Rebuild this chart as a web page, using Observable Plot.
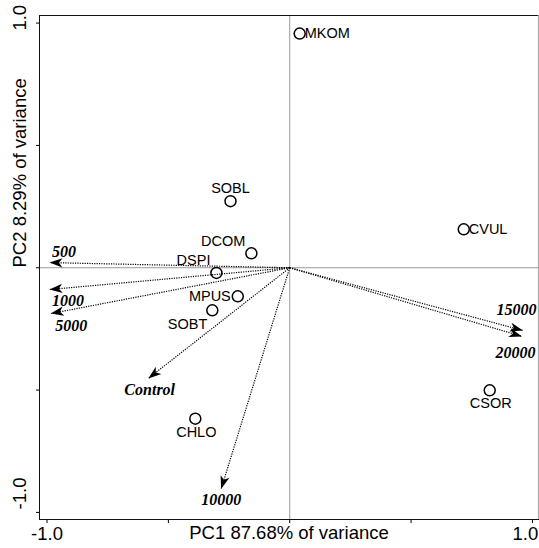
<!DOCTYPE html>
<html>
<head>
<meta charset="utf-8">
<script src="https://cdn.jsdelivr.net/npm/d3@7"></script>
<script src="https://cdn.jsdelivr.net/npm/@observablehq/plot@0.6"></script>
<style>
  html, body { margin: 0; padding: 0; background: #fff; }
  #chart svg { display: block; }
</style>
</head>
<body>
<div id="chart"></div>
<script>
// Species scores
const speciesNames = ["MKOM", "SOBL", "CVUL", "DCOM", "DSPI", "MPUS", "SOBT", "CSOR", "CHLO"];
const speciesPC1 = [0.041, -0.244, 0.717, -0.158, -0.302, -0.214, -0.319, 0.824, -0.389];
const speciesPC2 = [0.957, 0.272, 0.157, 0.059, -0.021, -0.117, -0.174, -0.501, -0.617];

// Treatment loadings (arrows)
const treatmentNames = ["500", "1000", "5000", "Control", "10000", "15000", "20000"];
const treatmentPC1 = [-0.988, -0.988, -0.983, -0.581, -0.282, 0.959, 0.955];
const treatmentPC2 = [0.021, -0.089, -0.187, -0.451, -0.902, -0.256, -0.280];

// Axis ticks
const xTickValues = [-1, -0.5, 0, 0.5, 1];
const yTickValues = [-1, -0.5, 0, 0.5, 1];
const xTickLabelValues = [-1, 1];
const xTickLabels = ["-1.0", "1.0"];
const yTickLabelValues = [1, -1];
const yTickLabels = ["1.0", "-1.0"];
const xTitle = "PC1 87.68% of variance";
const yTitle = "PC2 8.29% of variance";

const species = speciesNames.map((name, i) => ({name, x: speciesPC1[i], y: speciesPC2[i]}));
const treatments = treatmentNames.map((name, i) => ({name, x: treatmentPC1[i], y: treatmentPC2[i]}));

// label layout (pixel offsets)
const speciesLayout = {
  MKOM: {anchor: "start", dx: 5, dy: 0},
  CVUL: {anchor: "start", dx: 5, dy: 0},
  SOBL: {anchor: "middle", dx: 0, dy: -13},
  DCOM: {anchor: "end", dx: -6, dy: -12},
  DSPI: {anchor: "end", dx: -6, dy: -13},
  MPUS: {anchor: "end", dx: -7, dy: 0},
  SOBT: {anchor: "end", dx: -5, dy: 14},
  CSOR: {anchor: "middle", dx: 1, dy: 13},
  CHLO: {anchor: "middle", dx: 1, dy: 14}
};
const treatmentLayout = {
  "500": [14, -11],
  "1000": [18, 11.5],
  "5000": [20, 12.5],
  "Control": [1, 11.5],
  "10000": [0, 11],
  "15000": [-6, -21],
  "20000": [-6, 17]
};

const sans = "'Liberation Sans', Arial, Helvetica, sans-serif";
const serif = "'Liberation Serif', 'Times New Roman', serif";

const marks = [
  Plot.ruleX([0], {stroke: "#9a9a9a", strokeWidth: 1}),
  Plot.ruleY([0], {stroke: "#9a9a9a", strokeWidth: 1}),
  Plot.frame({stroke: "#111", strokeWidth: 1}),
  Plot.ruleX([1.025], {stroke: "#aaaaaa", strokeWidth: 1.2}),
  Plot.link(treatments, {
    x1: () => 0, y1: () => 0, x2: "x", y2: "y",
    stroke: "black", strokeWidth: 1.2, strokeDasharray: "1.2,1.2",
    markerEnd: "arrow"
  }),
  Plot.dot(species, {x: "x", y: "y", r: 5.5, stroke: "black", strokeWidth: 1.5, fill: "none"})
];

for (const name of speciesNames) {
  const L = speciesLayout[name];
  marks.push(Plot.text(species, {
    filter: d => d.name === name, x: "x", y: "y", text: "name",
    textAnchor: L.anchor, dx: L.dx, dy: L.dy,
    fontSize: 14.5, fontFamily: sans, fill: "black"
  }));
}
for (const name of treatmentNames) {
  const [dx, dy] = treatmentLayout[name];
  marks.push(Plot.text(treatments, {
    filter: d => d.name === name, x: "x", y: "y", text: "name",
    textAnchor: "middle", dx, dy,
    fontSize: 16, fontFamily: serif, fontWeight: "bold", fontStyle: "italic", fill: "black"
  }));
}

// tick labels and titles
marks.push(Plot.text(xTickLabelValues, {
  x: d => d, text: (d, i) => xTickLabels[i], frameAnchor: "bottom",
  dy: 20, fontSize: 18.5, fontFamily: sans, fill: "black",
  filter: d => d < 0
}));
marks.push(Plot.text(xTickLabelValues, {
  x: d => d, text: (d, i) => xTickLabels[i], frameAnchor: "bottom",
  dy: 20, dx: -7, fontSize: 18.5, fontFamily: sans, fill: "black",
  filter: d => d > 0
}));
marks.push(Plot.text([xTitle], {
  frameAnchor: "bottom", dy: 19.5, text: d => d, fontSize: 18.5, fontFamily: sans, fill: "black"
}));
marks.push(Plot.text(yTickLabelValues, {
  y: d => d, text: (d, i) => yTickLabels[i], frameAnchor: "left",
  dx: -19, dy: 7.5, rotate: -90, fontSize: 18.5, fontFamily: sans, fill: "black",
  filter: d => d > 0
}));
marks.push(Plot.text(yTickLabelValues, {
  y: d => d, text: (d, i) => yTickLabels[i], frameAnchor: "left",
  dx: -19, dy: -3, rotate: -90, fontSize: 18.5, fontFamily: sans, fill: "black",
  filter: d => d < 0
}));
marks.push(Plot.text([yTitle], {
  frameAnchor: "left", dx: -19, rotate: -90, text: d => d, fontSize: 18.5, fontFamily: sans, fill: "black"
}));

const svg = Plot.plot({
  width: 539,
  height: 548,
  marginLeft: 39,
  marginRight: 1,
  marginTop: 15,
  marginBottom: 29,
  style: {fontFamily: sans, fontSize: "18px", background: "white", color: "black", overflow: "visible"},
  x: {domain: [-1.031, 1.025], ticks: xTickValues, tickFormat: () => "", tickSize: 4, label: null, axis: "bottom"},
  y: {domain: [-1.029, 1.031], ticks: yTickValues, tickFormat: () => "", tickSize: 3, label: null, axis: "left"},
  marks
});

// filled dart-shaped arrowheads
svg.querySelectorAll("marker").forEach(m => {
  m.setAttribute("viewBox", "-14 -5 15 10");
  m.setAttribute("markerWidth", "15");
  m.setAttribute("markerHeight", "10");
  m.setAttribute("markerUnits", "userSpaceOnUse");
  m.setAttribute("fill", "black");
  m.setAttribute("stroke", "none");
  m.setAttribute("stroke-dasharray", "none");
  while (m.firstChild) m.removeChild(m.firstChild);
  const p = document.createElementNS("http://www.w3.org/2000/svg", "path");
  p.setAttribute("d", "M0.5,0L-12.5,-4.6L-9,0L-12.5,4.6Z");
  p.setAttribute("fill", "black");
  p.setAttribute("stroke", "none");
  m.appendChild(p);
});

document.getElementById("chart").appendChild(svg);
</script>
</body>
</html>
